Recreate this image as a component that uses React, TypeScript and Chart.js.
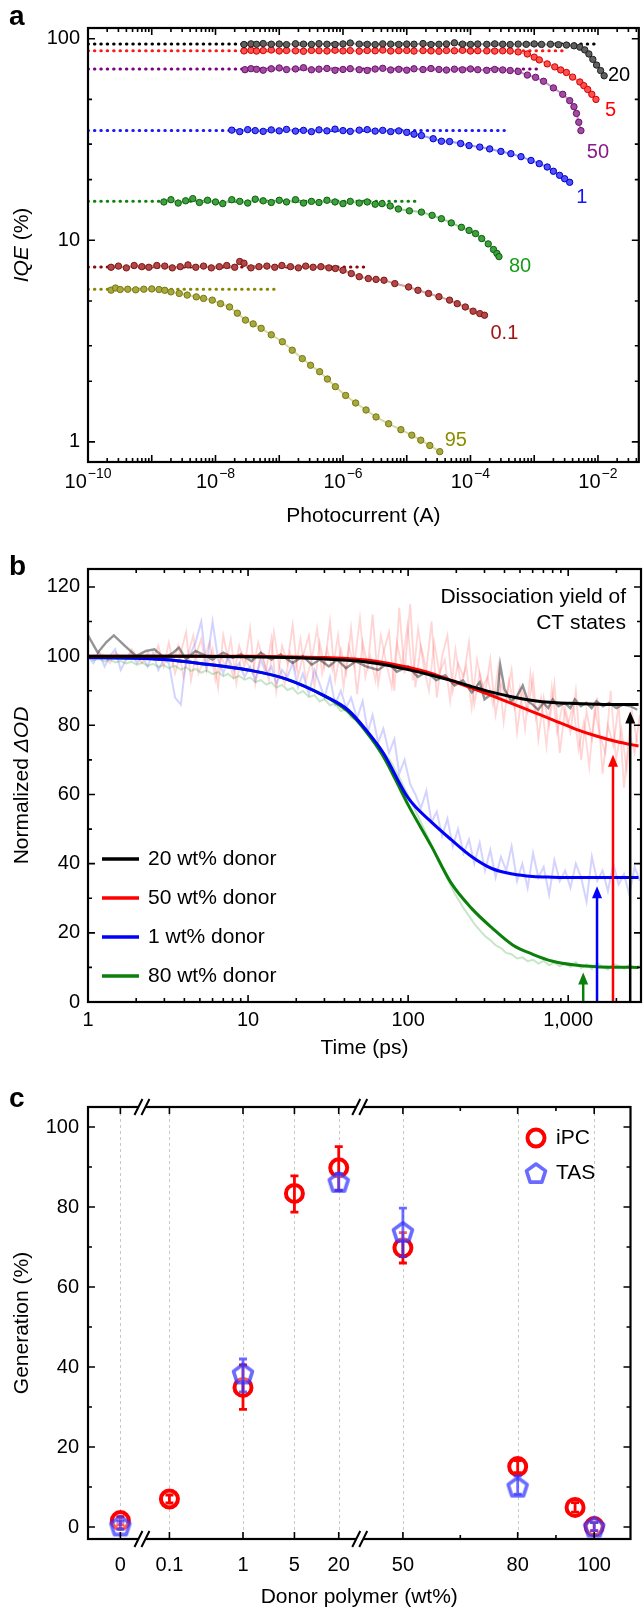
import React, { useEffect, useRef } from 'react';
import { Chart, registerables } from 'chart.js';

Chart.register(...registerables);

const FONT = '"Liberation Sans", Arial, Helvetica, sans-serif';
Chart.defaults.font.family = FONT;
Chart.defaults.color = '#000';

// ================= Panel a : IQE vs photocurrent =================
const aNames = ['20', '5', '50', '1', '80', '0.1', '95'];
const aXTickExp = [-10, -8, -6, -4, -2];
const aYTicks = [1, 10, 100];
const aYMinor = [2, 3, 5, 20, 30, 50];

const a20X = [2.8e-8, 3.6e-8, 4.4e-8, 5.6e-8, 7.5e-8, 1e-7, 1.3e-7, 1.8e-7, 2.4e-7, 3.2e-7, 4.2e-7, 5.6e-7, 7.5e-7, 1e-6, 1.3e-6, 1.8e-6, 2.4e-6, 3.2e-6, 4.2e-6, 5.6e-6, 7.5e-6, 1e-5, 1.3e-5, 1.8e-5, 2.4e-5, 3.2e-5, 4.2e-5, 5.6e-5, 7.5e-5, 1e-4, 1.3e-4, 1.8e-4, 2.4e-4, 3.2e-4, 4.2e-4, 5.6e-4, 7.5e-4, 1e-3, 1.3e-3, 1.8e-3, 2.4e-3, 3.2e-3, 4.2e-3, 5.2e-3, 6.2e-3, 7.2e-3, 8.3e-3, 9.5e-3, 1.1e-2, 1.25e-2];
const a20Y = [93.6, 94.3, 93.8, 94.6, 93.9, 94.1, 93.5, 94.4, 94.0, 93.7, 94.5, 93.9, 93.6, 94.2, 95.2, 94.0, 93.8, 93.5, 94.3, 94.0, 93.7, 94.1, 93.9, 94.6, 93.6, 93.8, 94.2, 95.4, 94.0, 93.7, 94.1, 93.8, 94.3, 93.9, 93.6, 94.0, 93.8, 94.2, 93.7, 93.9, 93.4, 93.0, 92.2, 90.8, 88.0, 84.0, 79.0, 74.0, 69.5, 65.5];

const a5X = [2.8e-8, 3.6e-8, 4.4e-8, 5.6e-8, 7.5e-8, 1e-7, 1.3e-7, 1.8e-7, 2.4e-7, 3.2e-7, 4.2e-7, 5.6e-7, 7.5e-7, 1e-6, 1.3e-6, 1.8e-6, 2.4e-6, 3.2e-6, 4.2e-6, 5.6e-6, 7.5e-6, 1e-5, 1.3e-5, 1.8e-5, 2.4e-5, 3.2e-5, 4.2e-5, 5.6e-5, 7.5e-5, 1e-4, 1.3e-4, 1.8e-4, 2.4e-4, 3.2e-4, 4.2e-4, 5.6e-4, 7.8e-4, 1e-3, 1.2e-3, 1.6e-3, 2.1e-3, 2.6e-3, 3.2e-3, 4.0e-3, 5.2e-3, 6.0e-3, 6.9e-3, 8.0e-3, 9.3e-3];
const a5Y = [87.0, 87.6, 86.8, 87.3, 87.9, 86.9, 87.4, 87.1, 86.6, 87.5, 87.2, 86.9, 87.7, 87.0, 87.3, 86.7, 87.4, 87.1, 87.8, 86.9, 87.2, 87.5, 86.8, 87.3, 87.0, 86.6, 87.4, 87.1, 87.6, 86.9, 87.2, 87.0, 86.8, 87.1, 86.9, 86.0, 84.0, 81.0, 78.5, 75.0, 72.5, 70.0, 68.0, 64.5, 61.0, 58.5, 56.0, 53.0, 50.0];

const a50X = [2.9e-8, 3.6e-8, 4.4e-8, 5.6e-8, 7.5e-8, 1e-7, 1.3e-7, 1.8e-7, 2.4e-7, 3.2e-7, 4.2e-7, 5.6e-7, 7.5e-7, 1e-6, 1.3e-6, 1.8e-6, 2.4e-6, 3.2e-6, 4.2e-6, 5.6e-6, 7.5e-6, 1e-5, 1.3e-5, 1.8e-5, 2.4e-5, 3.2e-5, 4.2e-5, 5.6e-5, 7.5e-5, 1e-4, 1.3e-4, 1.8e-4, 2.4e-4, 3.2e-4, 4.2e-4, 5.6e-4, 7.8e-4, 1.05e-3, 1.4e-3, 2.0e-3, 2.8e-3, 3.6e-3, 4.2e-3, 4.6e-3, 5.0e-3, 5.4e-3];
const a50Y = [70.2, 71.0, 70.5, 69.8, 70.9, 71.6, 70.3, 70.8, 71.8, 70.1, 70.6, 71.2, 69.7, 70.4, 71.0, 70.2, 69.6, 70.7, 71.3, 70.0, 70.5, 69.8, 70.9, 70.3, 71.1, 70.4, 69.9, 70.6, 70.1, 70.8, 70.2, 69.7, 70.4, 70.0, 69.5, 68.8, 66.0, 64.3, 61.5, 57.0, 53.0, 49.3, 46.0, 42.6, 38.5, 35.0];

const a1X = [1.8e-8, 2.4e-8, 3.2e-8, 4.2e-8, 5.6e-8, 7.5e-8, 1e-7, 1.3e-7, 1.8e-7, 2.4e-7, 3.2e-7, 4.2e-7, 5.6e-7, 7.5e-7, 1e-6, 1.3e-6, 1.8e-6, 2.4e-6, 3.2e-6, 4.2e-6, 5.6e-6, 7.5e-6, 1e-5, 1.3e-5, 1.7e-5, 2.6e-5, 3.5e-5, 4.7e-5, 7e-5, 9.5e-5, 1.4e-4, 2.0e-4, 3.0e-4, 4.3e-4, 6.2e-4, 8.9e-4, 1.2e-3, 1.6e-3, 2.0e-3, 2.5e-3, 3.0e-3, 3.6e-3];
const a1Y = [35.2, 34.6, 35.4, 35.0, 34.7, 35.3, 34.9, 35.5, 34.8, 35.1, 34.6, 35.3, 34.9, 35.6, 35.0, 34.7, 35.2, 35.4, 34.8, 35.1, 34.6, 34.9, 34.3, 33.6, 33.1, 31.9, 31.0, 30.9, 30.2, 29.5, 29.0, 28.4, 27.6, 26.9, 26.0, 24.9, 24.0, 23.1, 22.0, 21.0, 20.2, 19.4];

const a80X = [1.55e-9, 2e-9, 2.6e-9, 3.4e-9, 4.4e-9, 5.6e-9, 7.5e-9, 1e-8, 1.3e-8, 1.8e-8, 2.4e-8, 3.2e-8, 4.2e-8, 5.6e-8, 7.5e-8, 1e-7, 1.3e-7, 1.8e-7, 2.4e-7, 3.2e-7, 4.2e-7, 5.6e-7, 7.5e-7, 1e-6, 1.3e-6, 1.8e-6, 2.4e-6, 3.2e-6, 4.1e-6, 5.5e-6, 7.4e-6, 1.1e-5, 1.7e-5, 2.5e-5, 3.5e-5, 5e-5, 7.2e-5, 9.5e-5, 1.2e-4, 1.5e-4, 1.9e-4, 2.3e-4, 2.6e-4, 2.8e-4];
const a80Y = [15.5, 15.9, 15.3, 15.7, 16.1, 15.4, 15.8, 15.5, 15.2, 15.9, 15.6, 15.3, 16.0, 15.7, 15.4, 15.8, 15.5, 15.9, 15.3, 15.6, 15.4, 15.8, 15.5, 15.2, 15.6, 15.3, 15.5, 15.1, 15.2, 14.8, 14.3, 14.0, 13.8, 13.3, 12.8, 12.2, 11.6, 11.2, 10.8, 10.2, 9.6, 9.0, 8.6, 8.3];

const a01X = [2.3e-10, 3e-10, 4e-10, 5.3e-10, 7e-10, 9e-10, 1.2e-9, 1.6e-9, 2.1e-9, 2.8e-9, 3.7e-9, 4.9e-9, 6.5e-9, 8.6e-9, 1.15e-8, 1.5e-8, 2e-8, 2.4e-8, 2.8e-8, 3.6e-8, 4.8e-8, 6.4e-8, 8.5e-8, 1.1e-7, 1.5e-7, 2e-7, 2.6e-7, 3.4e-7, 4.5e-7, 6e-7, 7.6e-7, 1e-6, 1.35e-6, 1.8e-6, 2.5e-6, 3.3e-6, 4.4e-6, 6.5e-6, 1.07e-5, 1.5e-5, 2.2e-5, 3.2e-5, 4.7e-5, 6.2e-5, 8.3e-5, 1.1e-4, 1.4e-4, 1.66e-4];
const a01Y = [7.35, 7.45, 7.3, 7.5, 7.4, 7.35, 7.5, 7.45, 7.3, 7.4, 7.55, 7.35, 7.45, 7.3, 7.4, 7.5, 7.35, 7.85, 7.7, 7.3, 7.4, 7.45, 7.35, 7.5, 7.4, 7.3, 7.45, 7.35, 7.4, 7.3, 7.25, 7.1, 6.84, 6.6, 6.46, 6.4, 6.34, 6.1, 5.87, 5.65, 5.45, 5.25, 5.05, 4.85, 4.67, 4.45, 4.33, 4.25];

const a95X = [2.3e-10, 2.7e-10, 3.2e-10, 4.2e-10, 5.6e-10, 7.5e-10, 1e-9, 1.3e-9, 1.6e-9, 2e-9, 2.7e-9, 3.6e-9, 5e-9, 6.5e-9, 8.9e-9, 1.2e-8, 1.66e-8, 2.2e-8, 2.95e-8, 3.9e-8, 5.2e-8, 7.5e-8, 1.12e-7, 1.6e-7, 2.3e-7, 3.1e-7, 4.3e-7, 5.7e-7, 7.6e-7, 1.1e-6, 1.58e-6, 2.3e-6, 3.3e-6, 5.2e-6, 8.1e-6, 1.2e-5, 1.66e-5, 2.3e-5, 3.3e-5];
const a95Y = [5.66, 5.8, 5.7, 5.72, 5.68, 5.72, 5.74, 5.7, 5.65, 5.55, 5.45, 5.35, 5.24, 5.15, 5.05, 4.85, 4.67, 4.35, 4.02, 3.85, 3.66, 3.4, 3.14, 2.85, 2.59, 2.4, 2.23, 2.05, 1.88, 1.7, 1.56, 1.44, 1.33, 1.23, 1.15, 1.08, 1.02, 0.96, 0.895];

// dotted extrapolation lines (low-intensity IQE level and where the line ends)
const aDotLevel = [94.2, 87.2, 70.8, 35.0, 15.6, 7.38, 5.72];
const aDotEnd = [8.7e-3, 2.8e-3, 1.3e-3, 3.4e-4, 1.66e-5, 2.6e-6, 8.3e-8];
// where each composition label sits (data coords)
const aLabelX = [0.0214, 0.0158, 0.0100, 0.0056, 6.0e-4, 3.4e-4, 5.9e-5];
const aLabelY = [65.6, 44, 27.3, 16.3, 7.43, 3.46, 1.02];

const aSeries = [[a20X, a20Y], [a5X, a5Y], [a50X, a50Y], [a1X, a1Y], [a80X, a80Y], [a01X, a01Y], [a95X, a95Y]];
const aStyle = [
  { dot: '#000000', line: '#a0a0a0', fill: '#606060', edge: '#202020', text: '#000000' },
  { dot: '#ff1a1a', line: '#ff9a9a', fill: '#ff5050', edge: '#d00000', text: '#ff0000' },
  { dot: '#800080', line: '#c896c8', fill: '#a04ca0', edge: '#6e106e', text: '#8a1a8a' },
  { dot: '#1a1aff', line: '#9a9aff', fill: '#5050ff', edge: '#0000c0', text: '#1414ff' },
  { dot: '#108010', line: '#9ed09e', fill: '#40a040', edge: '#0a600a', text: '#169c16' },
  { dot: '#8c0a0a', line: '#d8a0a0', fill: '#b04848', edge: '#801414', text: '#a01414' },
  { dot: '#888800', line: '#d8d8a0', fill: '#a8a840', edge: '#787810', text: '#8c8c00' },
];

// ================= Panel b : transient absorption =================
const bXTicks = [1, 10, 100, 1000];
const bXTickLabels = ['1', '10', '100', '1,000'];
const bYTicks = [0, 20, 40, 60, 80, 100, 120];
const bYMinor = [10, 30, 50, 70, 90, 110];
const bLegendLabels = ['20 wt% donor', '50 wt% donor', '1 wt% donor', '80 wt% donor'];
const bColors = ['#000000', '#ff0000', '#0000ff', '#0a800a'];

const bFitT = [1, 2, 3, 5, 10, 17, 30, 42, 55, 70, 100, 140, 185, 250, 333, 450, 600, 800, 1100, 1500, 2000, 2750];
const bFit20 = [100, 100, 100, 99.95, 99.85, 99.6, 99.2, 98.8, 98.3, 97.6, 96.1, 94.5, 93.0, 91.2, 89.6, 88.2, 87.2, 86.6, 86.3, 86.1, 86.0, 86.0];
const bFit50 = [100, 100, 100, 100, 99.95, 99.85, 99.6, 99.3, 98.9, 98.2, 96.8, 95.0, 93.0, 90.8, 88.6, 86.2, 83.9, 81.6, 79.0, 76.9, 75.3, 74.0];
const bFit1 = [99.6, 99.4, 99.0, 97.9, 96.0, 93.5, 88.5, 84.5, 78.5, 72.0, 59.0, 52.0, 47.0, 42.0, 38.6, 37.0, 36.3, 36.1, 36.0, 36.0, 36.0, 36.0];
const bFit80 = [99.6, 99.4, 99.0, 97.9, 96.0, 93.5, 88.5, 84.0, 78.0, 71.0, 57.0, 45.0, 34.5, 27.0, 21.5, 16.5, 13.8, 11.8, 10.7, 10.2, 10.05, 10.0];

const bGrayT = [1, 1.15, 1.3, 1.45, 1.7, 2, 2.3, 2.6, 3, 3.4, 3.7, 4.1, 4.7, 5.2, 6, 7, 8, 9, 10.5, 12, 14, 16, 19, 22, 25, 28, 32, 36, 41, 47, 55, 65, 75, 85, 100, 115, 130, 150, 170, 195, 220, 250, 280, 300, 330, 360, 376, 400, 440, 480, 520, 560, 600, 650, 700, 750, 800, 870, 950, 1030, 1100, 1200, 1300, 1400, 1500, 1650, 1800, 2000, 2200, 2450, 2700];
const bGrayV = [106, 101, 104, 106, 103, 100, 101.5, 102, 99.5, 101, 102.5, 99, 101.5, 100.5, 99, 101, 99.5, 100.5, 98.5, 101, 99, 100.5, 98, 100, 97.5, 99, 97, 99, 96.5, 98.5, 97, 96, 98, 95.5, 97, 94, 95.5, 93, 94.5, 91.5, 93, 89.5, 92.5, 87.5, 89, 88, 97.5, 90.5, 87, 88.5, 91.5, 87, 86, 84.5, 86.5, 85, 87.5, 85.5, 86.5, 85, 87.5, 85.5, 86.5, 85, 87, 85.5, 86.5, 85, 86, 85.5, 84.5];

const bNoiseT = [1, 1.08, 1.17, 1.27, 1.37, 1.48, 1.6, 1.73, 1.87, 2.02, 2.18, 2.36, 2.55, 2.75, 2.97,
  3.2, 3.5, 3.8, 4.1, 4.4, 4.7, 5.1, 5.5, 6, 6.5, 7, 7.5, 8.1, 8.8, 9.5,
  10.3, 11.1, 12, 13, 14, 15, 16.3, 17.6, 19, 20.5, 22, 24, 26, 28, 30,
  32.5, 35, 38, 41, 44, 48, 52, 56, 60, 65, 70, 76, 82, 88, 95,
  103, 111, 120, 130, 140, 151, 163, 176, 190, 205, 222, 240, 259, 280, 302,
  326, 352, 380, 410, 443, 479, 517, 558, 603, 651, 703, 760, 820, 886, 957,
  1033, 1116, 1205, 1302, 1406, 1518, 1640, 1771, 1913, 2066, 2231, 2410, 2600, 2800];
const bRed50V = [100, 99, 101, 100, 98, 101, 100, 99, 102, 100, 98, 101, 99, 103, 97,
  104, 95, 101, 107, 93, 100, 105, 96, 102, 91, 106, 99, 94, 103, 97,
  108, 92, 101, 96, 105, 90, 103, 98, 109, 94, 100, 106, 91, 104, 97,
  110, 93, 102, 95, 108, 89, 104, 97, 112, 92, 101, 107, 90, 114, 95,
  115, 91, 103, 96, 110, 88, 100, 106, 90, 98, 94, 104, 86, 95, 89,
  99, 83, 92, 88, 96, 78, 90, 84, 94, 76, 88, 80, 92, 72, 85,
  78, 90, 70, 84, 76, 88, 66, 80, 74, 86, 62, 78, 72, 83];
// second (interleaved) group of 50 wt% raw points
const bNoiseT2 = [3.35, 3.65, 3.95, 4.25, 4.55, 4.9, 5.3, 5.75, 6.25, 6.75, 7.25, 7.8, 8.45, 9.15, 9.9,
  10.7, 11.55, 12.5, 13.5, 14.5, 15.65, 16.95, 18.3, 19.75, 21.25, 23, 25, 27, 29, 31.2,
  33.7, 36.5, 39.5, 42.5, 46, 50, 54, 58, 62.5, 67.5, 73, 79, 85, 91.5, 99,
  107, 115.5, 125, 135, 145.5, 157, 169.5, 183, 197.5, 213.5, 231, 249.5, 269.5, 291, 314,
  339, 366, 395, 426.5, 461, 498, 537.5, 580.5, 627, 677, 731.5, 790, 853, 921.5, 995,
  1074.5, 1160.5, 1253.5, 1354, 1462, 1579, 1705.5, 1842, 1989.5, 2148.5, 2320.5, 2505, 2700];
const bRed50V2 = [97, 103, 94, 101, 106, 95, 99, 104, 93, 100, 97, 105, 92, 101, 98,
  95, 104, 99, 93, 107, 97, 92, 101, 96, 105, 93, 99, 108, 95, 102,
  96, 106, 91, 103, 97, 111, 94, 100, 93, 106, 98, 91, 104, 97, 109,
  93, 108, 97, 90, 104, 95, 99, 87, 102, 92, 97, 85, 99, 91, 94,
  86, 97, 81, 93, 85, 91, 79, 95, 82, 88, 74, 91, 78, 86, 80,
  86, 73, 81, 68, 85, 77, 72, 90, 70, 79, 67, 84, 75];
const bBlue1V = [100, 98, 101, 97, 100, 102, 96, 99, 101, 98, 100, 97, 101, 96, 99,
  98, 88, 86, 99, 101, 104, 110, 97, 110, 99, 95, 100, 96, 98, 94,
  97, 93, 99, 95, 97, 92, 96, 94, 98, 91, 95, 89, 96, 92, 88,
  94, 86, 90, 85, 88, 82, 87, 78, 83, 75, 79, 72, 76, 66, 70,
  63, 60, 56, 61, 52, 55, 48, 53, 45, 50, 43, 47, 40, 46, 38,
  44, 36, 42, 38, 45, 35, 40, 33, 43, 36, 39, 31, 41, 35, 38,
  33, 40, 36, 29, 42, 35, 38, 32, 40, 34, 37, 31, 39, 35];
const bGreen80V = [99.5, 98.8, 99.2, 98.5, 99, 98.2, 98.6, 97.9, 98.4, 97.5, 98.1, 97.2, 97.8, 96.9, 97.4,
  96.5, 97.2, 96.1, 96.8, 95.7, 96.3, 95.2, 95.9, 94.8, 95.4, 94.2, 94.9, 93.6, 94.3, 93.2,
  93.8, 92.5, 93.1, 91.8, 92.4, 90.9, 91.7, 90.2, 90.8, 89.1, 89.9, 88.2, 88.7, 86.9, 87.6,
  85.8, 86.2, 84.1, 84.7, 82.3, 81.6, 79.2, 78.4, 76.1, 74.5, 72.2, 70.3, 67.6, 64.9, 61.8,
  58.7, 55.3, 52.1, 48.6, 45.4, 41.8, 38.9, 35.7, 32.4, 29.8, 27.1, 24.9, 22.6, 20.8, 19.1,
  17.9, 16.4, 15.6, 14.2, 13.8, 12.6, 12.9, 11.8, 12.2, 11.1, 11.9, 10.6, 11.4, 10.3, 11.2,
  10.1, 11.5, 9.8, 10.9, 9.5, 11.3, 10.2, 9.3, 11, 10.4, 9.6, 10.8, 9.9, 10.5];

// dissociation-yield arrows: time position and tip value (black, red, blue, green)
const bArrowT = [2440, 1905, 1514, 1241];
const bArrowTip = [84, 71.5, 33.5, 8.5];

// ================= Panel c : generation yield =================
const cXLabelWt = [0, 0.1, 1, 5, 20, 50, 80, 100];
const cXLabels = ['0', '0.1', '1', '5', '20', '50', '80', '100'];
const cXMinorWt = [65, 90];
const cYTicks = [0, 20, 40, 60, 80, 100];
const cYMinor = [10, 30, 50, 70, 90];
const cWt = [0, 0.1, 1, 5, 20, 50, 80, 95, 100];
const cIPC = [1.6, 7.0, 34.9, 83.4, 89.8, 69.8, 15.1, 4.9, 0.1];
const cIPCLo = [0.6, 6.0, 29.4, 78.7, 84.2, 66.0, 13.6, 3.7, -0.9];
const cIPCHi = [2.6, 8.0, 40.5, 87.8, 95.1, 73.6, 16.6, 6.1, 1.1];
const cTasWt = [0, 1, 20, 50, 80, 100];
const cTAS = [0.4, 38.4, 86.3, 73.8, 10.1, 0.1];
const cTasLo = [-0.6, 33.8, 84.1, 67.6, 8.2, -0.9];
const cTasHi = [1.4, 42.0, 88.4, 79.7, 12.8, 1.1];

// broken axis: 0 | log segment 0.1..20 | linear segment 50..100 (axis units)
function cPos(w: number): number {
  if (w <= 0) return 33;
  if (w <= 20) return 158 + 75 * Math.log10(w);
  return 321 + 3.9 * (w - 50);
}
const cBreaks = [55, 277];

// ================= helpers =================
const W = 643;
const HA = 535, HB = 540, HC = 533;

function decades(lo: number, hi: number) {
  const out: number[] = [];
  for (let e = Math.ceil(Math.log10(lo) - 1e-9); e <= Math.floor(Math.log10(hi) + 1e-9); e++) out.push(Math.pow(10, e));
  return out;
}
function minorLog(lo: number, hi: number) {
  const out: number[] = [];
  for (let e = Math.floor(Math.log10(lo)); e <= Math.ceil(Math.log10(hi)); e++) {
    for (let m = 2; m <= 9; m++) { const v = m * Math.pow(10, e); if (v > lo && v < hi) out.push(v); }
  }
  return out;
}

function frameTicks(chart: any, xMaj: number[], xMin: number[], yMaj: number[], yMin: number[], xMap?: (v: number) => number) {
  const ctx = chart.ctx; const { left, right, top, bottom } = chart.chartArea;
  const xs = chart.scales.x; const ys = chart.scales.y;
  const fx = (v: number) => xs.getPixelForValue(xMap ? xMap(v) : v);
  ctx.save();
  ctx.strokeStyle = '#000'; ctx.lineWidth = 1.6;
  ctx.beginPath();
  const tx = (v: number, len: number) => { const p = fx(v); ctx.moveTo(p, bottom); ctx.lineTo(p, bottom - len); ctx.moveTo(p, top); ctx.lineTo(p, top + len); };
  const ty = (v: number, len: number) => { const p = ys.getPixelForValue(v); ctx.moveTo(left, p); ctx.lineTo(left + len, p); ctx.moveTo(right, p); ctx.lineTo(right - len, p); };
  xMaj.forEach(v => tx(v, 7)); xMin.forEach(v => tx(v, 4));
  yMaj.forEach(v => ty(v, 7)); yMin.forEach(v => ty(v, 4));
  ctx.stroke();
  ctx.lineWidth = 2.2;
  ctx.strokeRect(left, top, right - left, bottom - top);
  ctx.restore();
}

function txt(ctx: any, s: string, x: number, y: number, font: string, color = '#000', align = 'center', base = 'middle') {
  ctx.save(); ctx.font = font; ctx.fillStyle = color; ctx.textAlign = align; ctx.textBaseline = base;
  ctx.fillText(s, x, y); ctx.restore();
}

function rotTitle(ctx: any, parts: [string, boolean][], cx: number, cy: number, size: number) {
  ctx.save(); ctx.translate(cx, cy); ctx.rotate(-Math.PI / 2);
  const fonts = parts.map(([, it]) => `${it ? 'italic ' : ''}${size}px ${FONT}`);
  let total = 0;
  const ws = parts.map(([s], i) => { ctx.font = fonts[i]; const w = ctx.measureText(s).width; total += w; return w; });
  let x = -total / 2;
  ctx.fillStyle = '#000'; ctx.textAlign = 'left'; ctx.textBaseline = 'middle';
  parts.forEach(([s], i) => { ctx.font = fonts[i]; ctx.fillText(s, x, 0); x += ws[i]; });
  ctx.restore();
}

function pentagon(size: number, r: number, stroke: string, fill: string, lw: number) {
  const c = document.createElement('canvas'); c.width = size; c.height = size;
  const g = c.getContext('2d')!;
  g.beginPath();
  for (let k = 0; k < 5; k++) {
    const ang = -Math.PI / 2 + (k * 2 * Math.PI) / 5;
    const px = size / 2 + r * Math.cos(ang), py = size / 2 + 1 + r * Math.sin(ang);
    if (k === 0) g.moveTo(px, py); else g.lineTo(px, py);
  }
  g.closePath(); g.fillStyle = fill; g.fill();
  g.lineJoin = 'round'; g.lineWidth = lw; g.strokeStyle = stroke; g.stroke();
  return c;
}

function baseOptions(padTop: number) {
  return {
    animation: false, responsive: false, maintainAspectRatio: false, events: [],
    layout: { padding: { top: padTop, right: 2, left: 0, bottom: 0 } },
    plugins: { legend: { display: false }, tooltip: { enabled: false }, title: { display: false } },
  };
}
const noGrid = { display: false, drawTicks: false };
const noBorder = { display: false };
const tickFont = { size: 20, family: FONT };

// ================= chart configs =================
function configA(): any {
  const datasets: any[] = [];
  aSeries.forEach(([xs, ys], i) => {
    const s = aStyle[i];
    datasets.push({
      data: xs.map((x, k) => ({ x, y: ys[k] })), showLine: true, borderColor: s.line, borderWidth: 2,
      pointRadius: 3.2, pointHoverRadius: 3.2, pointBackgroundColor: s.fill, pointBorderColor: s.edge, pointBorderWidth: 1,
    });
  });
  aDotLevel.forEach((lv, i) => {
    datasets.push({
      data: [{ x: 1e-10, y: lv }, { x: aDotEnd[i], y: lv }], showLine: true, borderColor: aStyle[i].dot,
      borderWidth: 3, borderDash: [0.5, 5.9], borderCapStyle: 'round', pointRadius: 0,
    });
  });
  const xMax = 0.0437;
  const plugin = {
    id: 'panelA',
    afterDraw(chart: any) {
      const ctx = chart.ctx; const xs = chart.scales.x; const ys = chart.scales.y; const ca = chart.chartArea;
      frameTicks(chart, decades(1e-10, xMax), minorLog(1e-10, xMax), aYTicks, aYMinor);
      ctx.save(); ctx.fillStyle = '#000'; ctx.textAlign = 'left'; ctx.textBaseline = 'alphabetic';
      aXTickExp.forEach(e => {
        const p = xs.getPixelForValue(Math.pow(10, e));
        const ex = '\u2212' + Math.abs(e);
        ctx.font = `20px ${FONT}`; const wb = ctx.measureText('10').width;
        ctx.font = `14px ${FONT}`; const we = ctx.measureText(ex).width;
        const x0 = p - (wb + we + 1) / 2;
        ctx.font = `20px ${FONT}`; ctx.fillText('10', x0, 488);
        ctx.font = `14px ${FONT}`; ctx.fillText(ex, x0 + wb + 1, 478);
      });
      ctx.font = `20px ${FONT}`; ctx.textAlign = 'center'; ctx.textBaseline = 'middle';
      aNames.forEach((n, i) => {
        ctx.fillStyle = aStyle[i].text;
        ctx.fillText(n, xs.getPixelForValue(aLabelX[i]), ys.getPixelForValue(aLabelY[i]));
      });
      ctx.restore();
      txt(ctx, 'Photocurrent (A)', (ca.left + ca.right) / 2, 516, `21px ${FONT}`);
      rotTitle(ctx, [['IQE', true], [' (%)', false]], 22, (ca.top + ca.bottom) / 2, 21);
      txt(ctx, 'a', 9, 25, `bold 28px ${FONT}`, '#000', 'left', 'alphabetic');
    },
  };
  return {
    type: 'scatter', data: { datasets }, plugins: [plugin],
    options: {
      ...baseOptions(28),
      scales: {
        x: {
          type: 'logarithmic', min: 1e-10, max: xMax, grid: noGrid, border: noBorder, ticks: { display: false },
          afterBuildTicks: (s: any) => { s.ticks = aXTickExp.map(e => ({ value: Math.pow(10, e) })); },
          afterFit: (s: any) => { s.height = HA - 462; },
        },
        y: {
          type: 'logarithmic', min: 0.795, max: 113, grid: noGrid, border: noBorder,
          ticks: { font: tickFont, color: '#000', padding: 8, callback: (_v: any, i: number) => String(aYTicks[i]) },
          afterBuildTicks: (s: any) => { s.ticks = aYTicks.map(v => ({ value: v })); },
          afterFit: (s: any) => { s.width = 88; },
        },
      },
    },
  };
}

function configB(): any {
  const line = (t: number[], v: number[], color: string, width: number, smooth: boolean) => ({
    data: t.map((x, k) => ({ x, y: v[k] })), showLine: true, borderColor: color, borderWidth: width,
    pointRadius: 0, cubicInterpolationMode: smooth ? 'monotone' : 'default', tension: 0,
  });
  const datasets = [
    line(bFitT, bFit20, bColors[0], 3, true),
    line(bFitT, bFit50, bColors[1], 3, true),
    line(bFitT, bFit1, bColors[2], 3, true),
    line(bFitT, bFit80, bColors[3], 3, true),
    line(bGrayT, bGrayV, 'rgba(0,0,0,0.42)', 2.4, false),
    line(bNoiseT, bGreen80V, 'rgba(0,140,0,0.22)', 2, false),
    line(bNoiseT, bBlue1V, 'rgba(70,70,255,0.24)', 2, false),
    line(bNoiseT2, bRed50V2, 'rgba(255,60,60,0.2)', 1.8, false),
    line(bNoiseT, bRed50V, 'rgba(255,60,60,0.22)', 1.8, false),
  ];
  const legendY = [324, 363, 402, 441];
  const plugin = {
    id: 'panelB',
    afterDatasetsDraw(chart: any) {
      const ctx = chart.ctx; const xs = chart.scales.x; const ys = chart.scales.y;
      ctx.save();
      bArrowT.forEach((t, i) => {
        const x = xs.getPixelForValue(t); const y0 = ys.getPixelForValue(0); const y1 = ys.getPixelForValue(bArrowTip[i]);
        ctx.strokeStyle = bColors[i]; ctx.fillStyle = bColors[i]; ctx.lineWidth = 2.5;
        ctx.beginPath(); ctx.moveTo(x, y0); ctx.lineTo(x, y1 + 9); ctx.stroke();
        ctx.beginPath(); ctx.moveTo(x, y1); ctx.lineTo(x - 5, y1 + 12); ctx.lineTo(x + 5, y1 + 12); ctx.closePath(); ctx.fill();
      });
      ctx.restore();
    },
    afterDraw(chart: any) {
      const ctx = chart.ctx; const ca = chart.chartArea;
      frameTicks(chart, bXTicks, minorLog(1, 2850), bYTicks, bYMinor);
      bLegendLabels.forEach((lab, i) => {
        ctx.save(); ctx.strokeStyle = bColors[i]; ctx.lineWidth = 3.5;
        ctx.beginPath(); ctx.moveTo(102, legendY[i]); ctx.lineTo(139, legendY[i]); ctx.stroke(); ctx.restore();
        txt(ctx, lab, 148, legendY[i], `21px ${FONT}`, '#000', 'left', 'middle');
      });
      txt(ctx, 'Dissociation yield of', 626, 62, `21px ${FONT}`, '#000', 'right', 'middle');
      txt(ctx, 'CT states', 626, 88, `21px ${FONT}`, '#000', 'right', 'middle');
      txt(ctx, 'Time (ps)', (ca.left + ca.right) / 2, 513, `21px ${FONT}`);
      rotTitle(ctx, [['Normalized ', false], ['\u0394OD', true]], 22, (ca.top + ca.bottom) / 2, 21);
      txt(ctx, 'b', 9, 40, `bold 28px ${FONT}`, '#000', 'left', 'alphabetic');
    },
  };
  return {
    type: 'scatter', data: { datasets }, plugins: [plugin],
    options: {
      ...baseOptions(34),
      scales: {
        x: {
          type: 'logarithmic', min: 1, max: 2850, grid: noGrid, border: noBorder,
          ticks: { font: tickFont, color: '#000', padding: 6, autoSkip: false, maxRotation: 0, callback: (_v: any, i: number) => bXTickLabels[i] },
          afterBuildTicks: (s: any) => { s.ticks = bXTicks.map(v => ({ value: v })); },
          afterFit: (s: any) => { s.height = HB - 467; },
        },
        y: {
          type: 'linear', min: 0, max: 125.2, grid: noGrid, border: noBorder,
          ticks: { font: tickFont, color: '#000', padding: 8, callback: (_v: any, i: number) => String(bYTicks[i]) },
          afterBuildTicks: (s: any) => { s.ticks = bYTicks.map(v => ({ value: v })); },
          afterFit: (s: any) => { s.width = 88; },
        },
      },
    },
  };
}

function configC(): any {
  const tasColor = 'rgba(50,50,255,0.72)';
  const pent = pentagon(28, 10, tasColor, 'rgba(255,255,255,0.35)', 3.6);
  const datasets = [
    { data: cTasWt.map((w, i) => ({ x: cPos(w), y: cTAS[i] })), pointStyle: pent, pointRadius: 10, showLine: false },
    {
      data: cWt.map((w, i) => ({ x: cPos(w), y: cIPC[i] })), pointStyle: 'circle', pointRadius: 8.5, pointBorderWidth: 4,
      pointBorderColor: '#ff0000', pointBackgroundColor: 'rgba(0,0,0,0)', showLine: false,
    },
  ];
  const bars = (chart: any, wts: number[], lo: number[], hi: number[], color: string) => {
    const ctx = chart.ctx; const xs = chart.scales.x; const ys = chart.scales.y;
    ctx.save(); ctx.strokeStyle = color; ctx.lineWidth = 2.8;
    wts.forEach((w, i) => {
      const x = xs.getPixelForValue(cPos(w)); const yl = ys.getPixelForValue(lo[i]); const yh = ys.getPixelForValue(hi[i]);
      ctx.beginPath(); ctx.moveTo(x, yl); ctx.lineTo(x, yh);
      ctx.moveTo(x - 4, yl); ctx.lineTo(x + 4, yl); ctx.moveTo(x - 4, yh); ctx.lineTo(x + 4, yh); ctx.stroke();
    });
    ctx.restore();
  };
  const plugin = {
    id: 'panelC',
    beforeDatasetsDraw(chart: any) {
      const ctx = chart.ctx; const xs = chart.scales.x; const ca = chart.chartArea;
      ctx.save(); ctx.strokeStyle = '#c8c8c8'; ctx.lineWidth = 1; ctx.setLineDash([3, 3]);
      cXLabelWt.forEach(w => {
        const p = Math.round(xs.getPixelForValue(cPos(w))) + 0.5;
        ctx.beginPath(); ctx.moveTo(p, ca.top); ctx.lineTo(p, ca.bottom); ctx.stroke();
      });
      ctx.restore();
    },
    afterDatasetDraw(chart: any, args: any) {
      if (args.index === 1) bars(chart, cWt, cIPCLo, cIPCHi, '#ff0000');
      if (args.index === 0) bars(chart, cTasWt, cTasLo, cTasHi, tasColor);
    },
    afterDraw(chart: any) {
      const ctx = chart.ctx; const ca = chart.chartArea; const xs = chart.scales.x;
      frameTicks(chart, cXLabelWt, cXMinorWt, cYTicks, cYMinor, cPos);
      ctx.save();
      cBreaks.forEach(u => {
        const p = xs.getPixelForValue(u);
        [ca.top, ca.bottom].forEach(y => {
          ctx.fillStyle = '#fff'; ctx.fillRect(p - 3.5, y - 2.5, 7, 5);
          ctx.strokeStyle = '#000'; ctx.lineWidth = 2;
          ctx.beginPath();
          [-3.5, 3.5].forEach(d => { ctx.moveTo(p + d - 4, y + 8); ctx.lineTo(p + d + 4, y - 8); });
          ctx.stroke();
        });
      });
      // legend
      ctx.strokeStyle = '#ff0000'; ctx.lineWidth = 4;
      ctx.beginPath(); ctx.arc(536, 63, 8.5, 0, Math.PI * 2); ctx.stroke();
      ctx.drawImage(pent, 536 - 14, 98 - 14);
      ctx.restore();
      txt(ctx, 'iPC', 556, 63, `21px ${FONT}`, '#000', 'left', 'middle');
      txt(ctx, 'TAS', 556, 98, `21px ${FONT}`, '#000', 'left', 'middle');
      txt(ctx, 'Donor polymer (wt%)', (ca.left + ca.right) / 2, 522, `21px ${FONT}`);
      rotTitle(ctx, [['Generation (%)', false]], 22, (ca.top + ca.bottom) / 2, 21);
      txt(ctx, 'c', 9, 32, `bold 28px ${FONT}`, '#000', 'left', 'alphabetic');
    },
  };
  return {
    type: 'scatter', data: { datasets }, plugins: [plugin],
    options: {
      ...baseOptions(32),
      scales: {
        x: {
          type: 'linear', min: 0, max: 553, grid: noGrid, border: noBorder,
          ticks: { font: tickFont, color: '#000', padding: 14, autoSkip: false, maxRotation: 0, callback: (_v: any, i: number) => cXLabels[i] },
          afterBuildTicks: (s: any) => { s.ticks = cXLabelWt.map(w => ({ value: cPos(w) })); },
          afterFit: (s: any) => { s.height = HC - 464; },
        },
        y: {
          type: 'linear', min: -3, max: 105, grid: noGrid, border: noBorder,
          ticks: { font: tickFont, color: '#000', padding: 9, callback: (_v: any, i: number) => String(cYTicks[i]) },
          afterBuildTicks: (s: any) => { s.ticks = cYTicks.map(v => ({ value: v })); },
          afterFit: (s: any) => { s.width = 88; },
        },
      },
    },
  };
}

export default function App() {
  const ra = useRef<HTMLCanvasElement>(null);
  const rb = useRef<HTMLCanvasElement>(null);
  const rc = useRef<HTMLCanvasElement>(null);
  useEffect(() => {
    const charts = [
      new Chart(ra.current!, configA()),
      new Chart(rb.current!, configB()),
      new Chart(rc.current!, configC()),
    ];
    return () => charts.forEach(c => c.destroy());
  }, []);
  const box = (top: number, h: number): React.CSSProperties => ({ position: 'absolute', left: 0, top, width: W, height: h });
  return (
    <div style={{ position: 'absolute', left: 0, top: 0, width: W, height: 1608, background: '#fff' }}>
      <div style={box(0, HA)}><canvas ref={ra} width={W} height={HA} style={{ display: 'block' }} /></div>
      <div style={box(HA, HB)}><canvas ref={rb} width={W} height={HB} style={{ display: 'block' }} /></div>
      <div style={box(HA + HB, HC)}><canvas ref={rc} width={W} height={HC} style={{ display: 'block' }} /></div>
    </div>
  );
}
